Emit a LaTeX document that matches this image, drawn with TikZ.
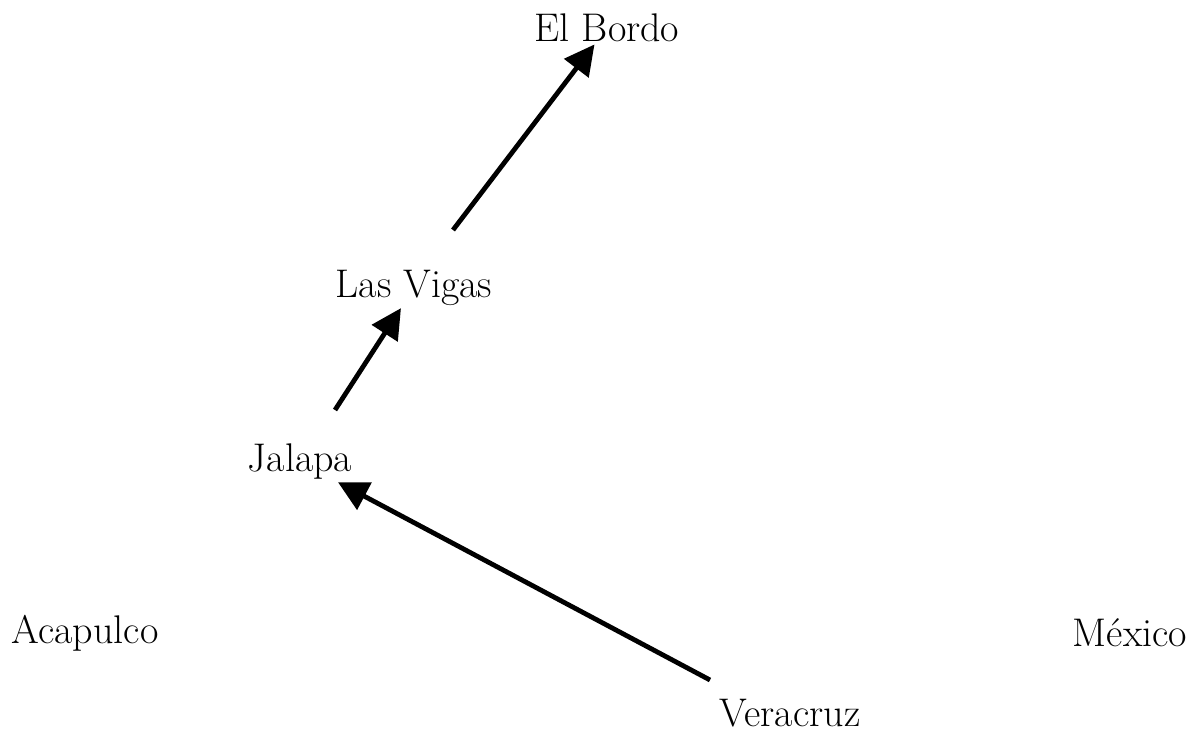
\documentclass[tikz,border=0pt]{standalone}
\usetikzlibrary{arrows.meta}

\begin{document}
\begin{tikzpicture}[x=0.5pt, y=-0.5pt,
  place/.style={font=\fontsize{20}{24}\selectfont, inner sep=1pt},
  route/.style={line width=2.4pt, -{Triangle[length=15pt,width=15pt]}}]
\useasboundingbox (0,0) rectangle (1202,732);
\node [place] (bordo) at (607,28) {El Bordo};
\node [place] (vigas) at (414,288) {Las Vigas};
\node [place] (jalapa) at (300,462) {Jalapa};
\node [place] (acapulco) at (85,633) {Acapulco};
\node [place] (mexico) at (1130,633) {México};
\node [place] (veracruz) at (790,713) {Veracruz};
\coordinate (s1) at (453,230);
\coordinate (s2) at (335,410);
\coordinate (s3) at (710,680);
\draw [route] (s1) -- (bordo);
\draw [route] (s2) -- (vigas);
\draw [route] (s3) -- (jalapa);
\end{tikzpicture}
\end{document}
